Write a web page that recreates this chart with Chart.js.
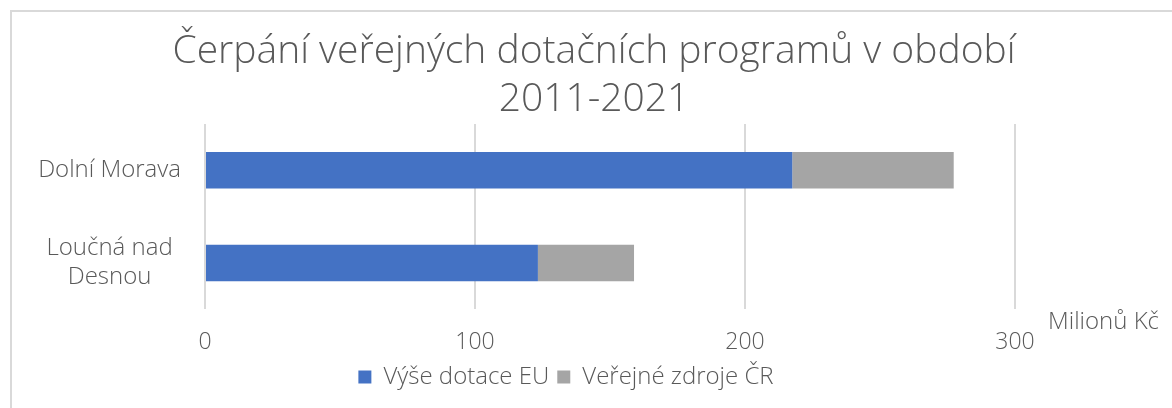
<!DOCTYPE html>
<html>
<head>
<meta charset="utf-8">
<script src="https://cdn.jsdelivr.net/npm/chart.js@4"></script>
<style>
  html, body { margin: 0; padding: 0; background: #fff; }
  #wrap { position: relative; width: 1172px; height: 408px; }
  #frame { position: absolute; left: 10px; top: 10px; right: -4px; bottom: -4px; border-left: 2px solid #d9d9d9; border-top: 2px solid #d9d9d9; }
  canvas { position: absolute; left: 0; top: 0; }
</style>
</head>
<body>
<div id="wrap">
  <div id="frame"></div>
  <canvas id="chart" width="1172" height="408"></canvas>
</div>
<script>
const categories = [['Dolní Morava'], ['Loučná nad', 'Desnou']];
const euValues = [217.5, 123.3];
const czValues = [59.8, 35.6];
const seriesNames = ['Výše dotace EU', 'Veřejné zdroje ČR'];
const titleLines = ['Čerpání veřejných dotačních programů v období', '2011-2021'];
const axisUnit = 'Milionů Kč';

const textColor = '#595959';
const fontFamily = "'Open Sans', Lato, 'DejaVu Sans', sans-serif";

// "Milionů Kč" sits right of the value axis, just under the plot
const unitLabel = {
  id: 'unitLabel',
  afterDraw(chart) {
    const ctx = chart.ctx;
    const x = chart.scales.x;
    ctx.save();
    ctx.font = '300 24px ' + fontFamily;
    ctx.fillStyle = textColor;
    ctx.textAlign = 'left';
    ctx.textBaseline = 'middle';
    ctx.fillText(axisUnit, x.right + 33, chart.chartArea.bottom + 13);
    ctx.restore();
  }
};

// nudge title and legend sideways, the original isn't centred on the canvas
const nudge = {
  id: 'nudge',
  afterLayout(chart) {
    chart.titleBlock.left += 8;
    chart.titleBlock.right += 8;
    chart.legend.left -= 20;
    chart.legend.right -= 20;
  }
};

new Chart(document.getElementById('chart'), {
  type: 'bar',
  data: {
    labels: categories,
    datasets: [
      { label: seriesNames[0], data: euValues, backgroundColor: '#4472c4' },
      { label: seriesNames[1], data: czValues, backgroundColor: '#a5a5a5' }
    ]
  },
  options: {
    indexAxis: 'y',
    responsive: false,
    animation: false,
    barPercentage: 0.395,
    categoryPercentage: 1,
    layout: { padding: { top: 0, right: 0, bottom: 9, left: 0 } },
    scales: {
      x: {
        stacked: true,
        min: 0,
        max: 300,
        afterFit(scale) { scale.height -= 18; },
        ticks: { stepSize: 100, color: textColor, font: { family: fontFamily, size: 23, weight: 300 }, padding: 19 },
        grid: { color: '#d9d9d9', lineWidth: 2, drawTicks: false },
        border: { display: false }
      },
      y: {
        stacked: true,
        afterFit(scale) { scale.width = 205; },
        ticks: { color: textColor, font: { family: fontFamily, size: 24, weight: 300 }, padding: 16, crossAlign: 'center' },
        grid: { display: false },
        border: { display: false }
      },
      spacer: {
        type: 'linear',
        position: 'right',
        afterFit(scale) { scale.width = 157; },
        ticks: { display: false },
        grid: { display: false },
        border: { display: false }
      }
    },
    plugins: {
      title: {
        display: true,
        text: titleLines,
        color: textColor,
        font: { family: fontFamily, size: 39, weight: 300, lineHeight: 1.23 },
        padding: { top: 28, bottom: 0 }
      },
      legend: {
        position: 'bottom',
        labels: {
          color: textColor,
          boxWidth: 13,
          boxHeight: 13,
          padding: 8,
          font: { family: fontFamily, size: 24, weight: 300 }
        }
      },
      tooltip: { enabled: false }
    }
  },
  plugins: [unitLabel, nudge]
});
</script>
</body>
</html>
